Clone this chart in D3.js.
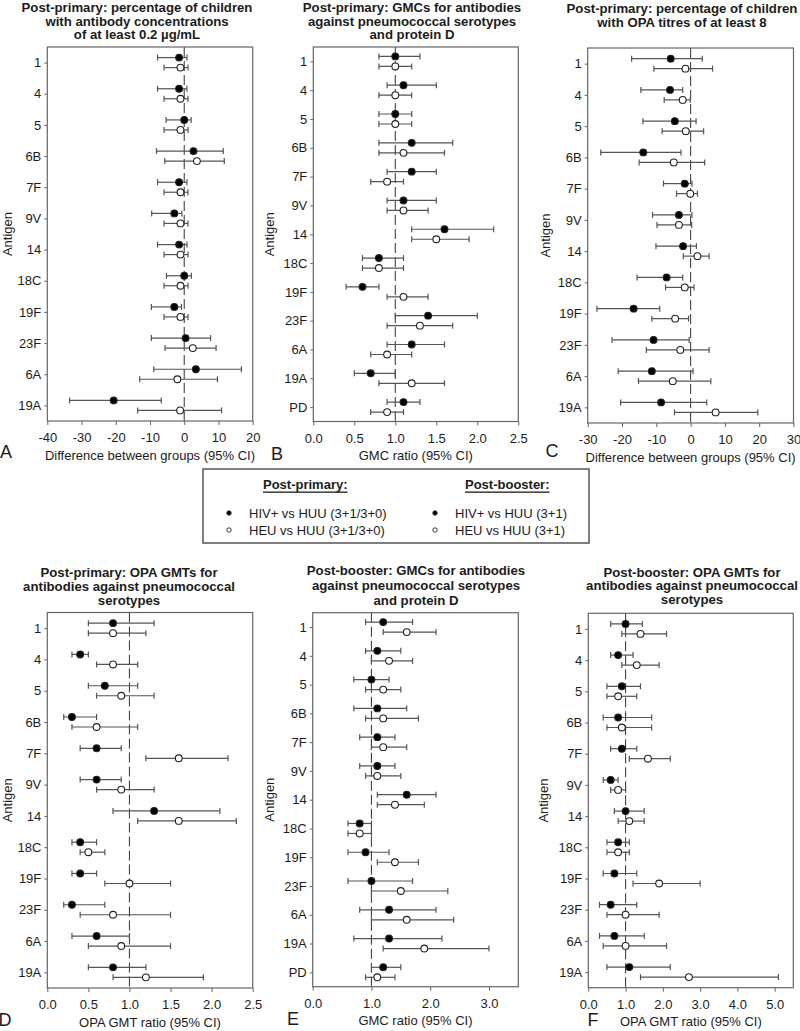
<!DOCTYPE html>
<html>
<head>
<meta charset="utf-8">
<script src="https://cdn.jsdelivr.net/npm/d3@7"></script>
<style>
  html, body { margin: 0; padding: 0; background: #fff; }
  svg { display: block; font-family: "Liberation Sans", Arial, sans-serif; }
</style>
</head>
<body>
<script>
// ---------- DATA ----------
const antigens12 = ["1", "4", "5", "6B", "7F", "9V", "14", "18C", "19F", "23F", "6A", "19A"];
const antigens13 = ["1", "4", "5", "6B", "7F", "9V", "14", "18C", "19F", "23F", "6A", "19A", "PD"];

// each entry: [estimate, lower 95% CI, upper 95% CI]
// A: Post-primary, % of children with antibody >= 0.2 ug/mL (difference)
const aHiv = [[-1.5,-7.8,0.8],[-1.5,-7.8,0.8],[0,-5.3,2.0],[2.7,-8.1,11.4],[-1.5,-7.8,0.8],[-2.9,-9.5,-0.7],
              [-1.5,-7.8,0.8],[0,-5.2,2.1],[-2.9,-9.6,-0.8],[0.4,-9.6,7.7],[3.4,-8.9,16.7],[-20.6,-33.5,-6.7]];
const aHeu = [[-1.1,-5.9,1.1],[-1.1,-5.9,1.1],[-1.1,-5.9,1.1],[3.7,-5.7,11.7],[-1.1,-5.9,1.1],[-1.1,-5.9,1.1],
              [-1.1,-5.9,1.1],[-1.1,-5.9,1.1],[-1.1,-5.9,1.1],[2.5,-5.6,9.3],[-2.0,-13.0,9.7],[-1.2,-13.6,10.9]];
// B: Post-primary GMC ratio
const bHiv = [[1.0,0.8,1.3],[1.1,0.9,1.5],[1.0,0.8,1.2],[1.2,0.8,1.7],[1.2,0.9,1.5],[1.1,0.9,1.5],[1.6,1.2,2.2],
              [0.8,0.6,1.1],[0.6,0.4,0.8],[1.4,1.0,2.0],[1.2,0.9,1.6],[0.7,0.5,1.0],[1.1,0.9,1.3]];
const bHeu = [[1.0,0.8,1.2],[1.0,0.8,1.2],[1.0,0.8,1.2],[1.1,0.8,1.6],[0.9,0.7,1.1],[1.1,0.9,1.4],[1.5,1.2,1.9],
              [0.8,0.6,1.1],[1.1,0.9,1.4],[1.3,0.9,1.7],[0.9,0.7,1.2],[1.2,0.8,1.6],[0.9,0.7,1.1]];
// C: Post-primary, % with OPA titres >= 8 (difference)
const cHiv = [[-5.8,-17.2,3.4],[-6.0,-14.5,-2.3],[-4.6,-13.9,1.6],[-13.8,-26.2,-2.8],[-1.7,-7.9,0.4],[-3.4,-11.1,0.4],
              [-2.2,-10.1,1.7],[-7.0,-15.6,-2.3],[-16.6,-27.3,-9.0],[-10.8,-22.9,-0.4],[-11.3,-21.1,0.7],[-8.6,-20.4,4.7]];
const cHeu = [[-1.5,-10.7,6.4],[-2.3,-7.7,-0.1],[-1.4,-8.3,3.8],[-4.9,-15.0,4.1],[-0.1,-4.1,2.0],[-3.4,-9.8,0.3],
              [2.0,-2.1,5.4],[-1.7,-7.3,1.0],[-4.5,-11.3,-0.6],[-3.0,-12.9,5.4],[-5.2,-15.2,5.9],[7.3,-4.7,19.6]];
// D: Post-primary OPA GMT ratio
const dHiv = [[0.8,0.5,1.3],[0.4,0.3,0.5],[0.7,0.5,1.1],[0.3,0.2,0.6],[0.6,0.4,0.9],[0.6,0.4,0.9],
              [1.3,0.8,2.1],[0.4,0.3,0.6],[0.4,0.3,0.6],[0.3,0.2,0.7],[0.6,0.3,1.0],[0.8,0.5,1.2]];
const dHeu = [[0.8,0.5,1.2],[0.8,0.6,1.1],[0.9,0.6,1.3],[0.6,0.3,1.1],[1.6,1.2,2.2],[0.9,0.6,1.3],
              [1.6,1.1,2.3],[0.5,0.4,0.7],[1.0,0.7,1.5],[0.8,0.4,1.5],[0.9,0.5,1.5],[1.2,0.8,1.9]];
// E: Post-booster GMC ratio
const eHiv = [[1.2,0.9,1.7],[1.1,0.9,1.5],[1.0,0.7,1.3],[1.1,0.7,1.6],[1.1,0.8,1.4],[1.1,0.8,1.4],[1.6,1.1,2.1],
              [0.8,0.6,1.0],[0.9,0.6,1.3],[1.0,0.6,1.7],[1.3,0.8,2.1],[1.3,0.7,2.2],[1.2,1.0,1.5]];
const eHeu = [[1.6,1.2,2.1],[1.3,1.0,1.7],[1.2,0.9,1.5],[1.2,0.9,1.8],[1.2,1.0,1.6],[1.1,0.9,1.5],[1.4,1.1,1.9],
              [0.8,0.6,1.0],[1.4,1.1,1.8],[1.5,1.0,2.3],[1.6,1.0,2.4],[1.9,1.2,3.0],[1.1,0.9,1.4]];
// F: Post-booster OPA GMT ratio
const fHiv = [[1.0,0.6,1.45],[0.8,0.6,1.2],[0.9,0.5,1.4],[0.8,0.4,1.7],[0.9,0.6,1.3],[0.6,0.4,0.8],
              [1.0,0.7,1.5],[0.8,0.5,1.1],[0.7,0.4,1.3],[0.6,0.3,1.3],[0.7,0.3,1.5],[1.1,0.5,2.2]];
const fHeu = [[1.4,0.9,2.1],[1.3,0.9,1.9],[0.8,0.5,1.3],[0.9,0.5,1.7],[1.6,1.1,2.2],[0.8,0.6,1.0],
              [1.1,0.8,1.5],[0.8,0.5,1.1],[1.9,1.2,3.0],[1.0,0.5,1.9],[1.0,0.4,2.1],[2.7,1.4,5.1]];

// axis tick values
const ticksA = [-40, -30, -20, -10, 0, 10, 20];
const ticksB = [0.0, 0.5, 1.0, 1.5, 2.0, 2.5];
const ticksC = [-30, -20, -10, 0, 10, 20, 30];
const ticksD = [0.0, 0.5, 1.0, 1.5, 2.0, 2.5];
const ticksE = [0.0, 1.0, 2.0, 3.0];
const ticksF = [0.0, 1.0, 2.0, 3.0, 4.0, 5.0];

const legendLabels = {
  primaryHead: "Post-primary:", boosterHead: "Post-booster:",
  primaryHiv: "HIV+ vs HUU (3+1/3+0)", primaryHeu: "HEU vs HUU (3+1/3+0)",
  boosterHiv: "HIV+ vs HUU (3+1)", boosterHeu: "HEU vs HUU (3+1)"
};

// ---------- LAYOUT ----------
const fmtInt = d => String(d);
const fmt1 = d3.format(".1f");
const panels = [
  { letter: "A", title: ["Post-primary: percentage of children", "with antibody concentrations", "of at least 0.2 \u00b5g/mL"],
    cats: antigens12, hiv: aHiv, heu: aHeu, domain: [-40, 20], ticks: ticksA, fmt: fmtInt, ref: 0,
    xlabel: "Difference between groups (95% CI)", box: [47.3, 47, 252.7, 421],
    titleX: 137, titleY: [7.5, 21, 34.5], antigenX: 7, letterPos: [6, 452] },
  { letter: "B", title: ["Post-primary: GMCs for antibodies", "against pneumococcal serotypes", "and protein D"],
    cats: antigens13, hiv: bHiv, heu: bHeu, domain: [0, 2.5], ticks: ticksB, fmt: fmt1, ref: 1,
    xlabel: "GMC ratio (95% CI)", box: [313.3, 47, 518.3, 421.5],
    titleX: 412, titleY: [7.5, 21, 34.5], antigenX: 269, letterPos: [277, 454] },
  { letter: "C", title: ["Post-primary: percentage of children", "with OPA titres of at least 8"],
    cats: antigens12, hiv: cHiv, heu: cHeu, domain: [-30, 30], ticks: ticksC, fmt: fmtInt, ref: 0,
    xlabel: "Difference between groups (95% CI)", box: [587.7, 48, 793.5, 423],
    titleX: 682, titleY: [8.5, 22.5], antigenX: 545, letterPos: [552, 451] },
  { letter: "D", title: ["Post-primary: OPA GMTs for", "antibodies against pneumococcal", "serotypes"],
    cats: antigens12, hiv: dHiv, heu: dHeu, domain: [0, 2.5], ticks: ticksD, fmt: fmt1, ref: 1,
    xlabel: "OPA GMT ratio (95% CI)", box: [47.3, 612.5, 252.7, 988],
    titleX: 129, titleY: [572, 586, 600], antigenX: 7, letterPos: [5, 1020] },
  { letter: "E", title: ["Post-booster: GMCs for antibodies", "against pneumococcal serotypes", "and protein D"],
    cats: antigens13, hiv: eHiv, heu: eHeu, domain: [0, 3.5], ticks: ticksE, fmt: fmt1, ref: 1,
    xlabel: "GMC ratio (95% CI)", box: [312.7, 612.7, 518.3, 986.7],
    titleX: 416, titleY: [570, 585, 600], antigenX: 269, letterPos: [293, 1019] },
  { letter: "F", title: ["Post-booster: OPA GMTs for", "antibodies against pneumococcal", "serotypes"],
    cats: antigens12, hiv: fHiv, heu: fHeu, domain: [0, 5.5], ticks: ticksF, fmt: fmt1, ref: 1,
    xlabel: "OPA GMT ratio (95% CI)", box: [588.3, 613.3, 793.3, 987.7],
    titleX: 692, titleY: [572, 585.5, 599], antigenX: 543, letterPos: [593, 1020] }
];

const TEXT = "#1c1c1c", FRAME = "#666", BAR = "#555", REF = "#444";
const svg = d3.select("body").append("svg").attr("width", 800).attr("height", 1031);

panels.forEach(p => {
  const [x0, y0, x1, y1] = p.box;
  const g = svg.append("g");
  const x = d3.scaleLinear().domain(p.domain).range([x0, x1]);
  const y = d3.scalePoint().domain(p.cats).range([y0, y1]).padding(0.5);

  // title
  const t = g.append("text").attr("x", p.titleX).attr("text-anchor", "middle")
    .attr("font-weight", "bold").attr("font-size", 13.2).attr("fill", TEXT);
  p.title.forEach((line, i) => {
    t.append("tspan").attr("x", p.titleX).attr("y", p.titleY[i]).attr("dominant-baseline", "central").text(line);
  });

  // reference dashed line
  g.append("line").attr("x1", x(p.ref)).attr("x2", x(p.ref)).attr("y1", y0).attr("y2", y1)
    .attr("stroke", REF).attr("stroke-width", 1.1).attr("stroke-dasharray", "10,4");

  // x axis
  const xa = g.append("g").attr("transform", `translate(0,${y1})`)
    .call(d3.axisBottom(x).tickValues(p.ticks).tickFormat(p.fmt).tickSizeInner(4).tickSizeOuter(0).tickPadding(8));
  xa.select(".domain").remove();
  xa.selectAll("line").attr("stroke", FRAME);
  xa.selectAll("text").attr("font-size", 13).attr("fill", TEXT).attr("font-family", "Liberation Sans, Arial, sans-serif");

  // y axis
  const ya = g.append("g").attr("transform", `translate(${x0},0)`)
    .call(d3.axisLeft(y).tickSizeInner(3).tickSizeOuter(0).tickPadding(3));
  ya.select(".domain").remove();
  ya.selectAll("line").attr("stroke", FRAME);
  ya.selectAll("text").attr("font-size", 13).attr("fill", TEXT).attr("font-family", "Liberation Sans, Arial, sans-serif");

  // frame
  g.append("rect").attr("x", x0).attr("y", y0).attr("width", x1 - x0).attr("height", y1 - y0)
    .attr("fill", "none").attr("stroke", FRAME).attr("stroke-width", 1.2);

  // axis labels
  g.append("text").attr("x", (x0 + x1) / 2).attr("y", y1 + 34).attr("dominant-baseline", "central")
    .attr("text-anchor", "middle").attr("font-size", 13).attr("fill", TEXT).text(p.xlabel);
  g.append("text").attr("transform", `translate(${p.antigenX},${(y0 + y1) / 2}) rotate(-90)`)
    .attr("dominant-baseline", "central").attr("text-anchor", "middle")
    .attr("font-size", 13).attr("fill", TEXT).text("Antigen");
  g.append("text").attr("x", p.letterPos[0]).attr("y", p.letterPos[1]).attr("dominant-baseline", "central")
    .attr("text-anchor", "middle").attr("font-size", 18).attr("fill", TEXT).text(p.letter);

  // series
  const series = [
    { data: p.hiv, off: -5, fill: "#000" },
    { data: p.heu, off: 5, fill: "#fff" }
  ];
  series.forEach(s => {
    const rows = s.data.map((v, i) => ({ cat: p.cats[i], est: v[0], lo: v[1], hi: v[2] }));
    const sg = g.append("g");
    sg.selectAll("line.bar").data(rows).join("line").attr("class", "bar")
      .attr("x1", d => x(d.lo)).attr("x2", d => x(d.hi))
      .attr("y1", d => y(d.cat) + s.off).attr("y2", d => y(d.cat) + s.off)
      .attr("stroke", BAR).attr("stroke-width", 1.2);
    ["lo", "hi"].forEach(k => {
      sg.selectAll("line.cap" + k).data(rows).join("line").attr("class", "cap" + k)
        .attr("x1", d => x(d[k])).attr("x2", d => x(d[k]))
        .attr("y1", d => y(d.cat) + s.off - 3).attr("y2", d => y(d.cat) + s.off + 3)
        .attr("stroke", BAR).attr("stroke-width", 1.2);
    });
    sg.selectAll("circle").data(rows).join("circle")
      .attr("cx", d => x(d.est)).attr("cy", d => y(d.cat) + s.off).attr("r", 3.4)
      .attr("fill", s.fill).attr("stroke", "#222").attr("stroke-width", 1.1);
  });
});

// ---------- LEGEND ----------
const lg = svg.append("g");
lg.append("rect").attr("x", 203).attr("y", 469).attr("width", 386).attr("height", 74)
  .attr("fill", "#fff").attr("stroke", "#555").attr("stroke-width", 1.5);
const heads = [
  { x: 263, text: legendLabels.primaryHead },
  { x: 465, text: legendLabels.boosterHead }
];
heads.forEach(h => {
  lg.append("text").attr("x", h.x).attr("y", 484).attr("dominant-baseline", "central")
    .attr("font-size", 13).attr("font-weight", "bold").attr("fill", TEXT)
    .attr("text-decoration", "underline").text(h.text);
});
const items = [
  { cx: 229, tx: 249, cy: 513, fill: "#000", text: legendLabels.primaryHiv },
  { cx: 229, tx: 249, cy: 530, fill: "#fff", text: legendLabels.primaryHeu },
  { cx: 435, tx: 455, cy: 513, fill: "#000", text: legendLabels.boosterHiv },
  { cx: 435, tx: 455, cy: 530, fill: "#fff", text: legendLabels.boosterHeu }
];
items.forEach(it => {
  lg.append("circle").attr("cx", it.cx).attr("cy", it.cy).attr("r", 2.2)
    .attr("fill", it.fill).attr("stroke", "#222").attr("stroke-width", 0.9);
  lg.append("text").attr("x", it.tx).attr("y", it.cy).attr("dominant-baseline", "central")
    .attr("font-size", 13).attr("fill", TEXT).text(it.text);
});
</script>
</body>
</html>
